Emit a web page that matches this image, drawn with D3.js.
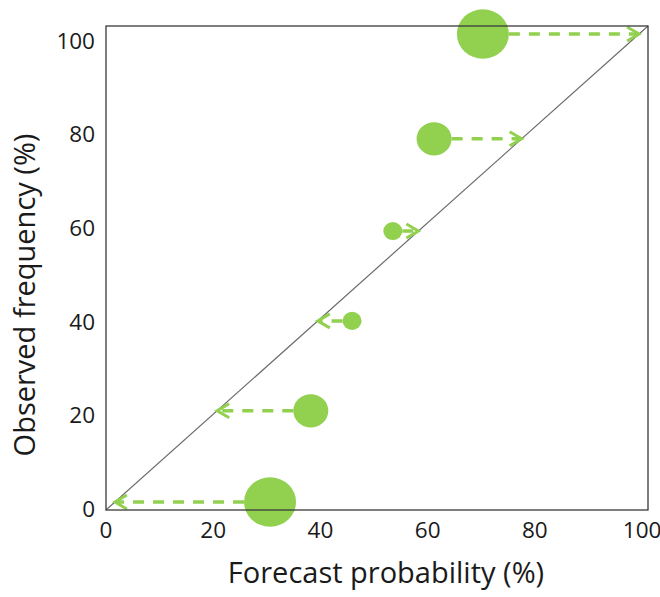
<!DOCTYPE html>
<html>
<head>
<meta charset="utf-8">
<script src="https://cdn.jsdelivr.net/npm/d3@7"></script>
<style>
  html, body { margin: 0; padding: 0; background: #fff; }
  text { font-family: "Open Sans", sans-serif; fill: #1a1a1a; }
</style>
</head>
<body>
<svg id="chart" width="660" height="597"></svg>
<script>
// ---- data ----
const forecastProb = [30.6, 38.2, 45.9, 53.5, 61.2, 70.3];   // circle x (%)
const observedFreq = [1.7, 21.2, 40.4, 59.6, 79.3, 101.7];   // circle y (%)
const sampleCount  = [75, 34, 10, 10, 34, 75];              // circle size
const xTicks = [0, 20, 40, 60, 80, 100];
const yTicks = [0, 20, 40, 60, 80, 100];
const xTitle = "Forecast probability (%)";
const yTitle = "Observed frequency (%)";

(function () {
// ---- layout ----
const svg = d3.select("#chart");
const pL = 106, pR = 648, pT = 26, pB = 510;
const xMax = 101.1, yMax = 103.4;
const x = d3.scaleLinear().domain([0, xMax]).range([pL, pR]);
const y = d3.scaleLinear().domain([0, yMax]).range([pB, pT]);
const r = d3.scaleSqrt().domain([0, 75]).range([0, 26]);
const green = "#92D050";

// diagonal 1:1 line (corner to corner)
svg.append("line")
  .attr("x1", x(0)).attr("y1", y(0))
  .attr("x2", x(xMax)).attr("y2", y(yMax))
  .attr("stroke", "#6b6b6b").attr("stroke-width", 1.2);

// circles
svg.append("g").selectAll("ellipse")
  .data(forecastProb.map((f, i) => ({f, o: observedFreq[i], n: sampleCount[i]})))
  .join("ellipse")
  .attr("cx", d => x(d.f)).attr("cy", d => y(d.o))
  .attr("rx", d => r(d.n)).attr("ry", d => r(d.n) * 0.95)
  .attr("fill", green);

// arrows: from circle edge horizontally to the diagonal
const arrows = svg.append("g");
forecastProb.forEach((f, i) => {
  const o = observedFreq[i];
  const cy = y(o);
  const tipVal = o * xMax / yMax;           // where the diagonal is at this height
  const tipX = x(tipVal);
  const dir = tipX > x(f) ? 1 : -1;
  const startX = x(f) + dir * r(sampleCount[i]);
  arrows.append("line")
    .attr("x1", startX).attr("y1", cy)
    .attr("x2", tipX - dir * 2).attr("y2", cy)
    .attr("stroke", green).attr("stroke-width", 3.5)
    .attr("stroke-dasharray", "11,9");
  arrows.append("polyline")
    .attr("points", [[tipX - dir * 12, cy - 7], [tipX, cy], [tipX - dir * 12, cy + 7]].map(p => p.join(",")).join(" "))
    .attr("fill", "none").attr("stroke", green).attr("stroke-width", 3);
});

// frame
svg.append("rect")
  .attr("x", pL).attr("y", pT)
  .attr("width", pR - pL).attr("height", pB - pT)
  .attr("fill", "none").attr("stroke", "#3a3a3a").attr("stroke-width", 1.3);

// tick labels
svg.append("g").selectAll("text").data(xTicks).join("text")
  .attr("x", d => x(d)).attr("y", 538)
  .attr("text-anchor", "middle").attr("font-size", 22.5)
  .text(d => d);
svg.append("g").selectAll("text").data(yTicks).join("text")
  .attr("x", 95).attr("y", d => y(d) - 1)
  .attr("dy", "0.35em")
  .attr("text-anchor", "end").attr("font-size", 22.5)
  .text(d => d);

// axis titles
svg.append("text")
  .attr("x", 386).attr("y", 583)
  .attr("text-anchor", "middle").attr("font-size", 29)
  .text(xTitle);
svg.append("text")
  .attr("transform", "translate(35,295) rotate(-90)")
  .attr("text-anchor", "middle").attr("font-size", 29)
  .text(yTitle);
})();
</script>
</body>
</html>
